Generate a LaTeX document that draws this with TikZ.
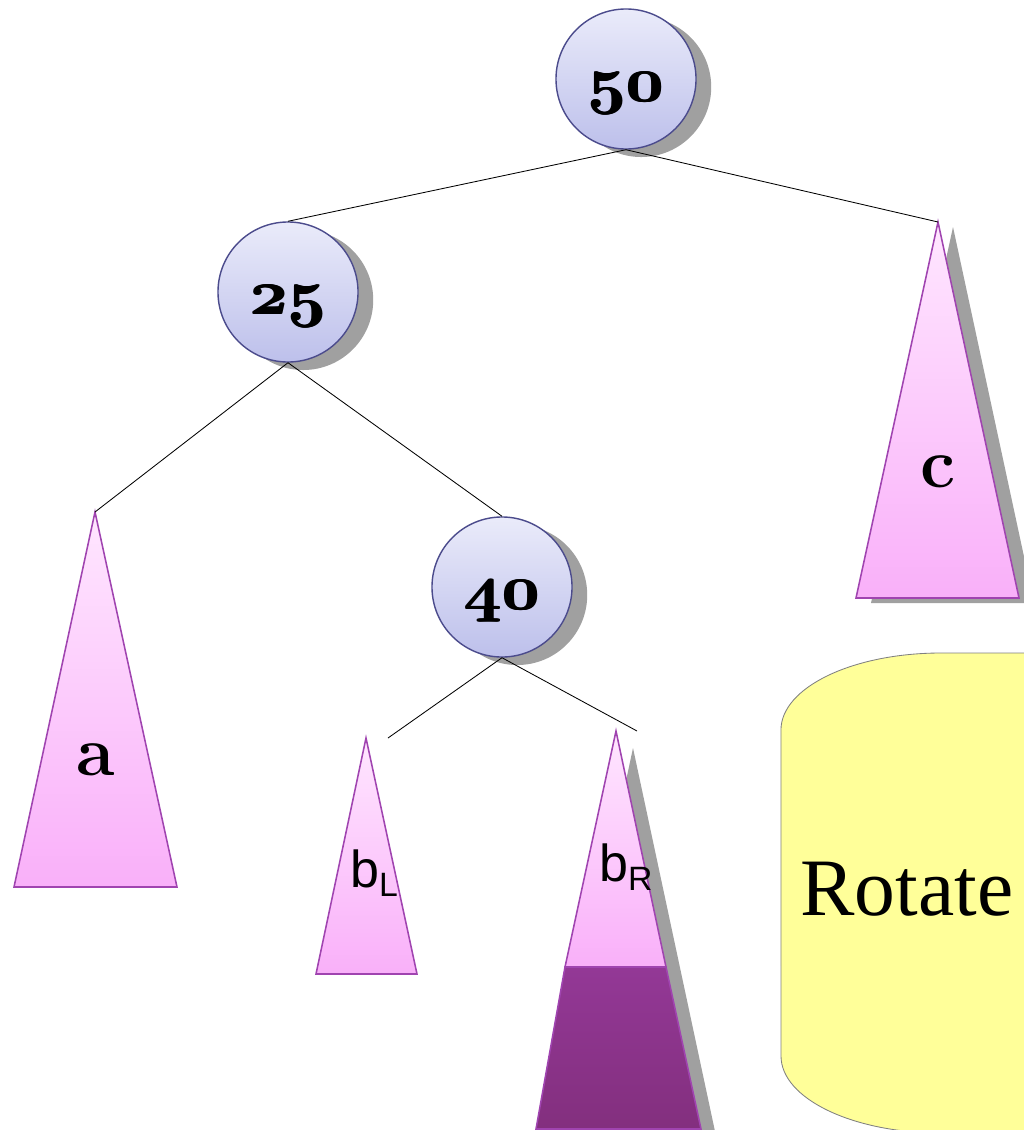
\documentclass[tikz,border=0pt]{standalone}
\usepackage{fontspec}
\usetikzlibrary{shadows,calc}
\newfontfamily\sansf{Liberation Sans}
\newfontfamily\seriff{Liberation Serif}
\font\osnum=cmmib10 at 46pt
\definecolor{circtop}{HTML}{EAEBFA}
\definecolor{circbot}{HTML}{BDC0EB}
\definecolor{circline}{HTML}{4B4B8C}
\definecolor{tritop}{HTML}{FFE6FF}
\definecolor{tribot}{HTML}{F9B0F9}
\definecolor{triline}{HTML}{A044B0}
\definecolor{darktop}{HTML}{933896}
\definecolor{darkbot}{HTML}{832F7E}
\definecolor{shadowgray}{HTML}{A0A0A0}
\definecolor{yel}{HTML}{FFFF99}
\tikzset{
  bnode/.style={circle, draw=circline, line width=1pt, top color=circtop, bottom color=circbot,
    minimum size=3.5cm, inner sep=0pt, font=\osnum,
    drop shadow={shadow xshift=0.38cm, shadow yshift=-0.2cm, opacity=1, fill=shadowgray}},
  tri/.style={draw=triline, line width=1.1pt, top color=tritop, bottom color=tribot, line join=miter},
  darktri/.style={draw=triline, line width=1.1pt, top color=darktop, bottom color=darkbot},
  shad/.style={fill=shadowgray},
  edge/.style={draw=black, line width=0.6pt},
  bigletter/.style={inner sep=0pt, font=\fontsize{50}{50}\selectfont\bfseries},
  sublabel/.style={inner sep=0pt, anchor=base west, font=\sansf\fontsize{37}{37}\selectfont},
}
\newcommand{\subtxt}[1]{\raisebox{-7pt}{\fontsize{24}{24}\selectfont #1}}
\newcommand{\heavynum}[1]{\raisebox{-16pt}[0pt][0pt]{\makebox[0pt][l]{#1}\makebox[0pt][l]{\kern0.7pt#1}\kern1.4pt#1}}
\begin{document}
\begin{tikzpicture}[x=0.025cm,y=-0.025cm]
\useasboundingbox (0,0) rectangle (1024,1130);
\clip (0,0) rectangle (1024,1130);

% yellow rotate shape
\filldraw[fill=yel, draw=gray, line width=0.6pt]
  (1040,653) -- (941,653) arc[start angle=90, end angle=180, x radius=4cm, y radius=1.925cm]
  -- (781,1056) arc[start angle=180, end angle=270, x radius=4cm, y radius=1.925cm]
  -- (1040,1133) -- cycle;
\node[inner sep=0pt, anchor=base west, font=\seriff\fontsize{58}{58}\selectfont] (rot) at (800,915) {Rotate};

% circle nodes
\node[bnode] (n50) at (626,79) {\heavynum{50}};
\node[bnode] (n25) at (288,292) {\heavynum{25}};
\node[bnode] (n40) at (502,587) {\heavynum{40}};

% subtree apexes
\coordinate (aTop) at (95,512);
\coordinate (cTop) at (938,222);
\coordinate (bLTop) at (366,738);
\coordinate (bRTop) at (616,731);
\coordinate (bLEnd) at (388,738);
\coordinate (bREnd) at (637,731);

% shadows of triangles
\fill[shad] (953,227) -- (1034,603) -- (871,603) -- cycle;
\fill[shad] (633,748) -- (716,1136) -- (550,1136) -- cycle;

% triangles
\path[tri] (aTop) -- (177,887) -- (14,887) -- cycle;
\path[tri] (cTop) -- (1019,598) -- (856,598) -- cycle;
\path[tri] (bLTop) -- (417,974) -- (316,974) -- cycle;
\path[darktri] (565,967) -- (666,967) -- (701,1129) -- (536,1129) -- cycle;
\path[tri] (bRTop) -- (666,967) -- (565,967) -- cycle;

% labels
\node[bigletter] (aLab) at (96,760) {a};
\node[bigletter] (cLab) at (938,472) {c};
\node[sublabel] (bLLab) at (350,887) {b\subtxt{L}};
\node[sublabel] (bRLab) at (599,881) {b\subtxt{R}};

% connectors
\draw[edge] (n50.south) -- (n25.north);
\draw[edge] (n50.south) -- (cTop);
\draw[edge] (n25.south) -- (aTop);
\draw[edge] (n25.south) -- (n40.north);
\draw[edge] (n40.south) -- (bLEnd);
\draw[edge] (n40.south) -- (bREnd);
\end{tikzpicture}
\end{document}
